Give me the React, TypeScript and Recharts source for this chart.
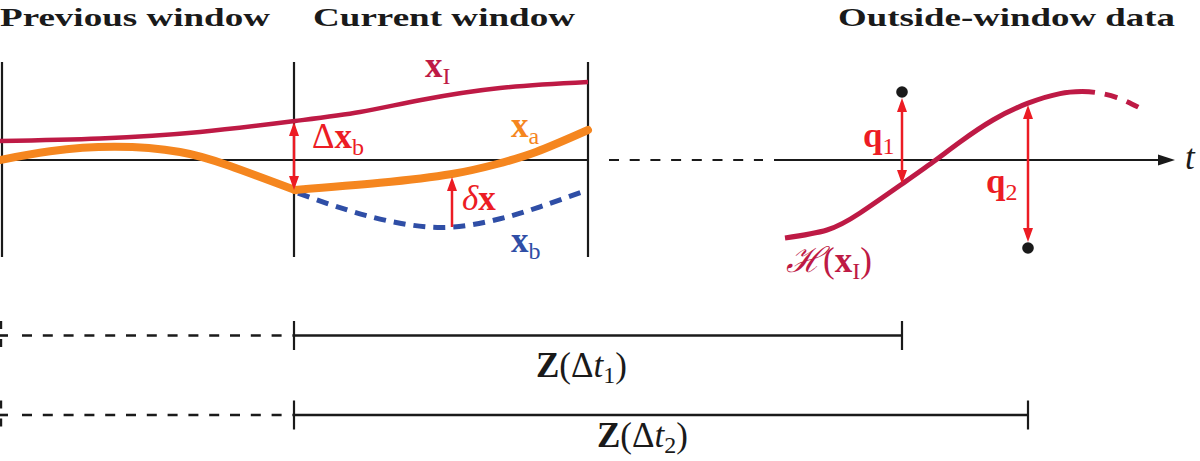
import React from "react";
import {
  ComposedChart,
  Line,
  XAxis,
  YAxis,
  ReferenceLine,
  ReferenceDot,
} from "recharts";

// t = position along the time axis, v = state value (0 sits on the t axis)
type Pt = { t: number; v: number };
const pts = (rows: number[][]): Pt[] => rows.map(([t, v]) => ({ t, v }));

const incrementTraj = pts([
  [0, 0.475], [1, 0.54], [2, 0.7], [2.95, 0.975], [3.6, 1.2],
  [4.21, 1.5], [5, 1.8], [5.88, 1.95],
]);
const analysisPrev = pts([
  [0, 0], [0.5, 0.22], [1.15, 0.33], [1.8, 0.2], [2.3, -0.15], [2.95, -0.75],
]);
const analysisCur = pts([
  [2.95, -0.75], [3.8, -0.57], [4.52, -0.35], [4.97, -0.1], [5.36, 0.2], [5.88, 0.75],
]);
const backgroundTraj = pts([
  [2.98, -0.83], [3.5, -1.27], [4.0, -1.58], [4.5, -1.68], [5.0, -1.47],
  [5.4, -1.17], [5.82, -0.8],
]);
const obsOperator = pts([
  [7.85, -1.95], [8.27, -1.75], [8.6, -1.325], [9.02, -0.6], [9.33, -0.05],
  [9.6, 0.45], [9.93, 1.0], [10.28, 1.42], [10.6, 1.66], [10.82, 1.71],
]);
const obsOperatorTail = pts([[10.82, 1.71], [10.95, 1.69], [11.17, 1.56], [11.4, 1.3]]);
const observations = pts([[9.02, 1.7], [10.28, -2.2]]);

const windowEdges = [0.02, 2.94, 5.88];
const windowTop = 2.45;
const windowBottom = -2.425;
const zSpanEnds = [9.02, 10.28];
const zSpanLevels = [-4.3875, -6.375];
const titles = ["Previous window", "Current window", "Outside-window data"];

const CRIMSON = "#BE1A45";
const ORANGE = "#F5861F";
const BLUE = "#2F4EA6";
const RED = "#EC1C24";
const INK = "#1a1a1a";
const MATH = "'Liberation Serif', 'DejaVu Serif', serif";

const head = (dir: "up" | "down" | "right", color: string, len = 14, half = 5) =>
  (p: any) => {
    const { cx, cy } = p;
    let d = "";
    if (dir === "up") d = `${cx},${cy} ${cx - half},${cy + len} ${cx + half},${cy + len}`;
    if (dir === "down") d = `${cx},${cy} ${cx - half},${cy - len} ${cx + half},${cy - len}`;
    if (dir === "right") d = `${cx},${cy} ${cx - len},${cy - half} ${cx - len},${cy + half}`;
    return <polygon points={d} fill={color} />;
  };

const txt = (content: React.ReactNode, color: string, extra: any = {}) => (p: any) => (
  <text x={p.cx} y={p.cy} fill={color} fontFamily={MATH} fontSize={35} {...extra}>
    {content}
  </text>
);

const sub = (s: string, dy = 7) => (
  <tspan fontSize={24} fontWeight="normal" fontStyle="normal" dy={dy}>{s}</tspan>
);

function Seg({ a, b, color = INK, w = 2.2, dash }: { a: number[]; b: number[]; color?: string; w?: number; dash?: string }) {
  return (
    <ReferenceLine
      segment={[{ x: a[0], y: a[1] }, { x: b[0], y: b[1] }]}
      stroke={color}
      strokeWidth={w}
      strokeDasharray={dash}
      ifOverflow="visible"
    />
  );
}

export default function App() {
  const series = (data: Pt[], color: string, width: number, dash?: string, cap: any = "butt") => (
    <Line
      data={data}
      dataKey="v"
      type="natural"
      stroke={color}
      strokeWidth={width}
      strokeDasharray={dash}
      strokeLinecap={cap}
      dot={false}
      activeDot={false}
      isAnimationActive={false}
    />
  );

  return (
    <div>
      <style>{"body{margin:0}"}</style>
      <ComposedChart width={1200} height={461} margin={{ top: 0, right: 0, bottom: 0, left: 0 }}>
        <XAxis dataKey="t" type="number" domain={[0, 12]} hide allowDataOverflow />
        <YAxis type="number" domain={[-7.525, 4]} hide allowDataOverflow />

        {/* window edges */}
        {windowEdges.map((x) => (
          <Seg key={x} a={[x, windowTop]} b={[x, windowBottom]} />
        ))}

        {/* time axis */}
        <Seg a={[0, 0]} b={[5.88, 0]} />
        <Seg a={[6.09, 0]} b={[7.63, 0]} dash="10 10.7" />
        <Seg a={[7.74, 0]} b={[11.6, 0]} />
        <ReferenceDot x={11.75} y={0} shape={head("right", INK, 17, 5.5)} />

        {series(incrementTraj, CRIMSON, 4.5)}
        {series(backgroundTraj, BLUE, 5, "12 8")}
        {series(analysisPrev, ORANGE, 8, undefined, "round")}
        {series(analysisCur, ORANGE, 8, undefined, "round")}
        {series(obsOperator, CRIMSON, 5)}
        {series(obsOperatorTail, CRIMSON, 5, "13 10")}

        {/* Δx_b */}
        <Seg a={[2.94, 0.7]} b={[2.94, -0.5]} color={RED} w={2.5} />
        <ReferenceDot x={2.94} y={0.95} shape={head("up", RED)} />
        <ReferenceDot x={2.94} y={-0.75} shape={head("down", RED)} />
        {/* δx */}
        <Seg a={[4.52, -1.675]} b={[4.52, -0.6]} color={RED} w={2.5} />
        <ReferenceDot x={4.52} y={-0.425} shape={head("up", RED)} />
        {/* q1, q2 */}
        <Seg a={[9.02, 1.35]} b={[9.02, -0.35]} color={RED} w={2.5} />
        <ReferenceDot x={9.02} y={1.55} shape={head("up", RED)} />
        <ReferenceDot x={9.02} y={-0.6} shape={head("down", RED)} />
        <Seg a={[10.28, 1.2]} b={[10.28, -1.85]} color={RED} w={2.5} />
        <ReferenceDot x={10.28} y={1.375} shape={head("up", RED)} />
        <ReferenceDot x={10.28} y={-2.05} shape={head("down", RED)} />

        {observations.map((o) => (
          <ReferenceDot key={o.t} x={o.t} y={o.v} r={5.8} fill={INK} stroke="none" />
        ))}

        {/* Z(Δt) spans */}
        {zSpanLevels.map((lv, i) => (
          <React.Fragment key={lv}>
            <Seg a={[0.01, lv + 0.3625]} b={[0.01, lv - 0.3625]} w={2.4} dash="8 10" />
            <Seg a={[0, lv]} b={[0.08, lv]} w={2.6} />
            <Seg a={[0.22, lv]} b={[2.94, lv]} w={2.6} dash="10 10.8" />
            <Seg a={[2.94, lv]} b={[zSpanEnds[i], lv]} w={2.6} />
            <Seg a={[2.94, lv + 0.3625]} b={[2.94, lv - 0.3625]} w={2.2} />
            <Seg a={[zSpanEnds[i], lv + 0.3625]} b={[zSpanEnds[i], lv - 0.3625]} w={2.2} />
          </React.Fragment>
        ))}

        {/* titles */}
        {[0, 3.13, 8.38].map((x, i) => (
          <ReferenceDot
            key={titles[i]}
            x={x}
            y={3.36}
            shape={txt(titles[i], INK, {
              fontWeight: "bold",
              fontSize: 26,
              textLength: [270, 262, 337][i],
              lengthAdjust: "spacingAndGlyphs",
            })}
          />
        ))}

        {/* math labels */}
        <ReferenceDot x={4.25} y={2.075} shape={txt(<><tspan fontWeight="bold">x</tspan>{sub("I")}</>, CRIMSON)} />
        <ReferenceDot x={5.11} y={0.575} shape={txt(<><tspan fontWeight="bold">x</tspan>{sub("a")}</>, ORANGE)} />
        <ReferenceDot x={5.11} y={-2.3} shape={txt(<><tspan fontWeight="bold">x</tspan>{sub("b")}</>, BLUE)} />
        <ReferenceDot x={3.12} y={0.3} shape={txt(<>Δ<tspan fontWeight="bold">x</tspan>{sub("b")}</>, RED)} />
        <ReferenceDot x={4.62} y={-1.25} shape={txt(<><tspan fontStyle="italic">δ</tspan><tspan fontWeight="bold">x</tspan></>, RED)} />
        <ReferenceDot x={8.63} y={0.325} shape={txt(<><tspan fontWeight="bold">q</tspan>{sub("1")}</>, RED)} />
        <ReferenceDot x={9.86} y={-0.825} shape={txt(<><tspan fontWeight="bold">q</tspan>{sub("2")}</>, RED)} />
        <ReferenceDot
          x={7.86}
          y={-2.8}
          shape={txt(<><tspan fontStyle="italic">ℋ</tspan>(<tspan fontWeight="bold">x</tspan>{sub("I")}<tspan dy={-7}>)</tspan></>, CRIMSON)}
        />
        <ReferenceDot x={11.85} y={-0.22} shape={txt("t", INK, { fontStyle: "italic" })} />
        {zSpanLevels.map((lv, i) => (
          <ReferenceDot
            key={`z${i}`}
            x={[5.36, 5.97][i]}
            y={[(160 - 377) / 40, (160 - 447) / 40][i]}
            shape={txt(
              <>
                <tspan fontWeight="bold">Z</tspan>(Δ<tspan fontStyle="italic">t</tspan>
                {sub(String(i + 1), 6)}
                <tspan dy={-6}>)</tspan>
              </>,
              INK
            )}
          />
        ))}
      </ComposedChart>
    </div>
  );
}
